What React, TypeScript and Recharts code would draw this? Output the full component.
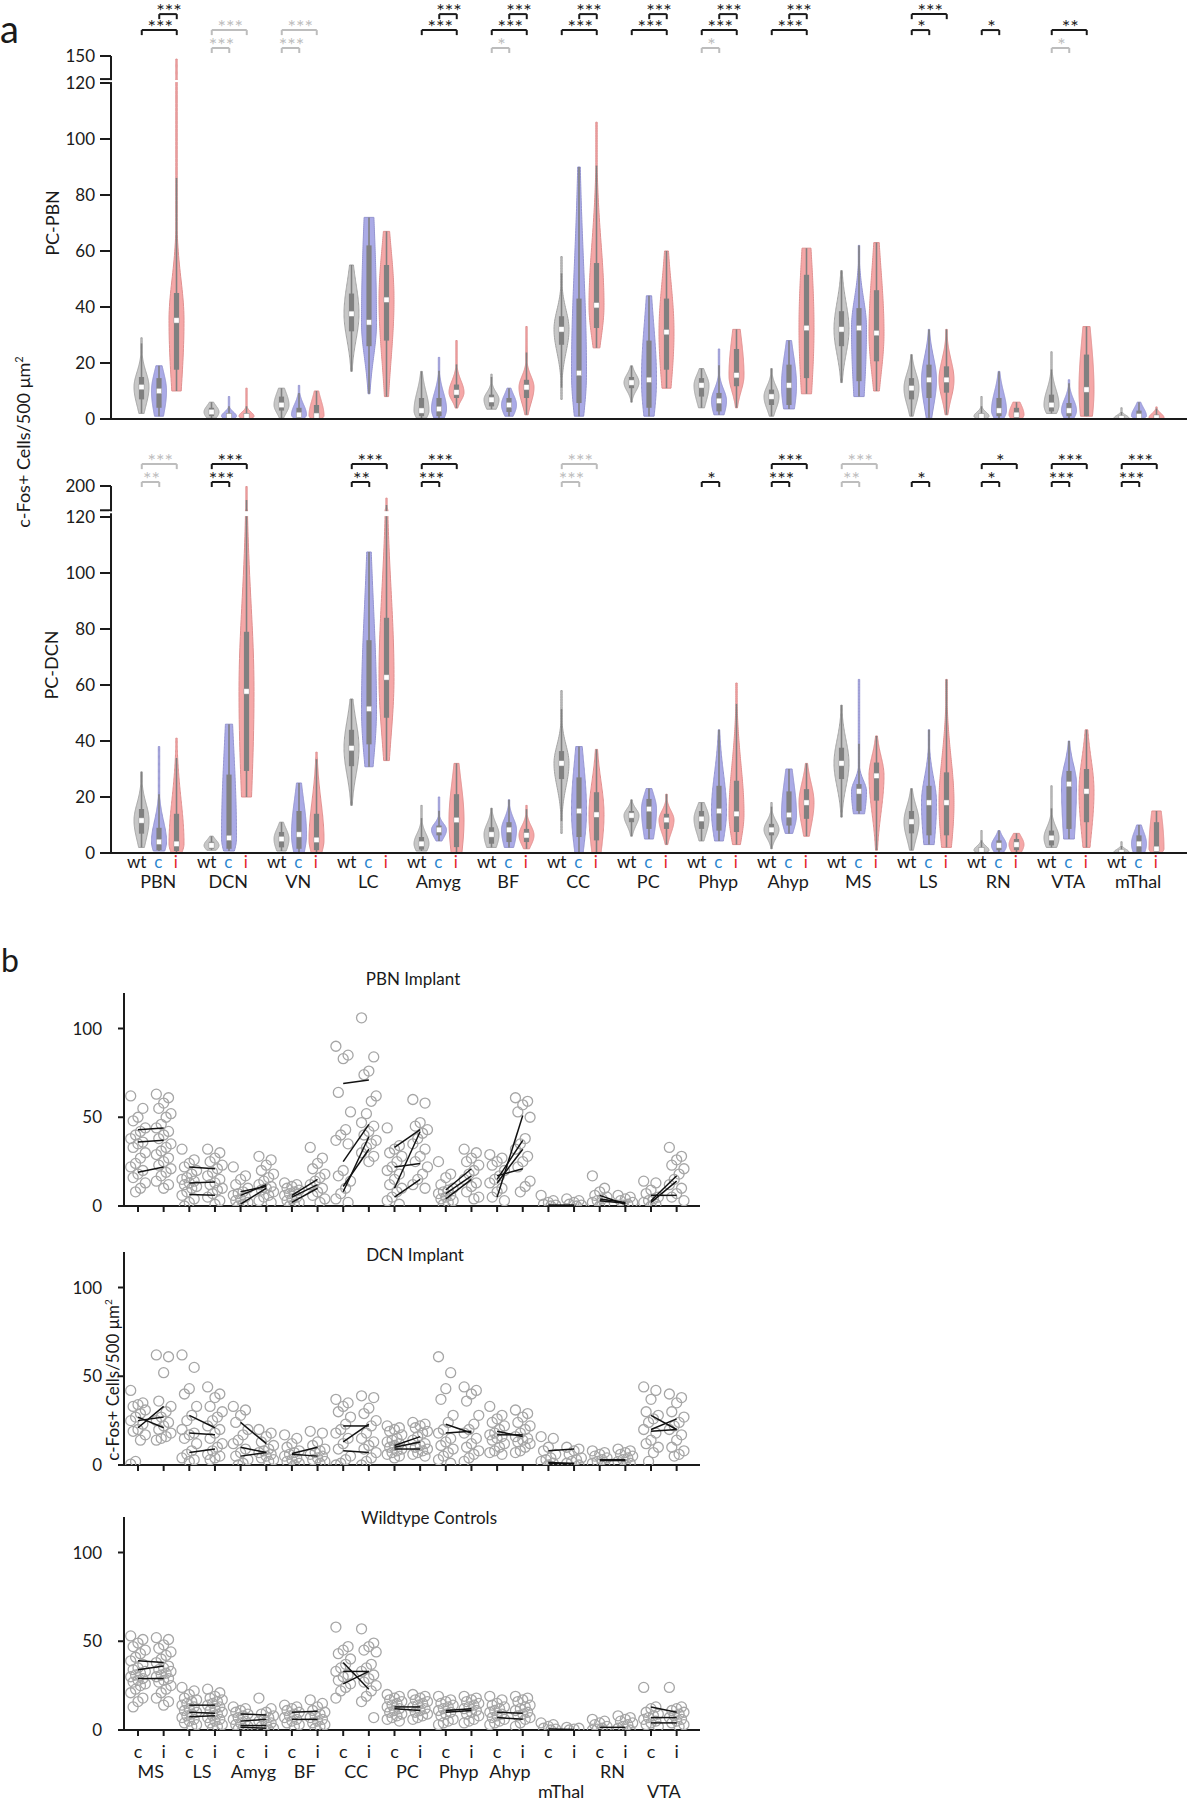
import React from 'react';
import { ComposedChart, Bar, XAxis, YAxis, ReferenceLine, Scatter } from 'recharts';

const FONT = 'Lato, "Noto Sans", "DejaVu Sans", sans-serif';
const INK = '#1a1a1a';
const SIG_GRAY = '#bdbdbd';

// ================= Panel a : violin data =================
const REGIONS_A = ['PBN', 'DCN', 'VN', 'LC', 'Amyg', 'BF', 'CC', 'PC', 'Phyp', 'Ahyp', 'MS', 'LS', 'RN', 'VTA', 'mThal'];

// each entry: [min, q1, median, q3, max]
const PBN_WT = [[2, 7, 11.4, 15, 29], [0.3, 1, 2.5, 4, 6], [0.3, 3, 5, 8, 11], [17, 31.3, 37.6, 44.8, 55], [0.3, 1, 3, 7.5, 17], [3.5, 4.5, 6.9, 8.7, 16], [7, 26.5, 32, 36.7, 58], [6, 11, 13, 15, 19], [4, 8, 12, 14.6, 18], [1, 5, 8, 10.5, 18], [13, 26, 32, 38.5, 53], [1, 7, 11, 14.6, 23], [0, 0.3, 1, 2, 8], [2, 2.7, 5, 8.7, 24], [0, 0, 0.3, 1, 4]];
const PBN_C = [[1, 4, 10, 14.6, 19], [0, 0.3, 1, 2, 8], [0, 0.5, 1.5, 4, 12], [9, 26, 34.5, 62, 72], [0.3, 1, 3.6, 7.5, 22], [1, 2.5, 5, 7.5, 11], [1, 5.7, 16.4, 43, 90], [1, 4, 14, 28, 44], [1.5, 2.7, 6.5, 9.3, 25], [3.6, 5, 12, 19.4, 28], [8, 13.5, 32.5, 39.6, 62], [0.4, 7.5, 14, 19.4, 32], [0, 1, 3, 7.5, 17], [0, 1, 3, 5.7, 14], [0, 0.5, 1, 3, 6]];
const PBN_I = [[10, 17.6, 35.2, 45, 146], [0, 0.3, 1, 2, 11], [0, 0.3, 1.2, 5, 10], [8, 28, 42.6, 55, 67], [3.9, 7.5, 9.5, 12.3, 28], [1.5, 7.5, 11.3, 14, 33], [25.4, 32.5, 40.6, 55.7, 106], [11, 17.6, 31, 43, 60], [4, 11.7, 15.6, 25, 32], [9, 14.6, 32.5, 51.5, 61], [10, 20.6, 30.7, 46, 63], [1.5, 9.4, 14, 18.8, 32], [0, 0.3, 1.5, 4, 6], [1, 1, 10.5, 23, 33], [0, 0, 0.5, 1.5, 4.3]];

const DCN_WT = [[2, 6.9, 11.6, 15.7, 29], [1, 1.5, 2.7, 4, 6], [0.7, 2, 5, 7.5, 11], [17, 31, 37.4, 44, 55], [0.7, 1.2, 3.3, 5.7, 17], [2, 3.3, 6.6, 9.2, 16], [7, 26.4, 32, 36.4, 58], [6, 11, 13.4, 15, 19], [4.3, 8.6, 12.2, 15, 18], [1.5, 6.3, 8.3, 10.4, 18], [12.8, 26.4, 32, 37.6, 52.8], [1, 7, 11.2, 15, 23], [0, 0.3, 1, 2, 8], [2, 2.7, 5.4, 8, 24], [0, 0, 0.3, 1, 4]];
const DCN_C = [[0.7, 1, 4, 9, 38], [0.7, 1.5, 5.4, 28, 46], [0, 1.5, 6.6, 15, 25], [30.8, 38.8, 51.5, 76, 107.5], [4.3, 6.3, 8.3, 9.8, 20], [2, 3.9, 8.3, 11, 19], [0, 5.7, 15, 27, 38], [5, 8.6, 15.7, 19.3, 23], [4.3, 8, 15, 24, 44], [7, 9.8, 13.6, 22, 30], [14, 15, 22, 24.6, 62], [3, 6.3, 18, 24, 44], [0, 1, 2.7, 4.5, 8], [5, 8.6, 24.6, 29.3, 40], [0, 0.4, 3.3, 6.3, 10]];
const DCN_I = [[0, 0.7, 3.3, 14, 41], [20, 29.3, 57.7, 79, 198], [0, 1, 4.7, 14, 36], [33, 48.3, 62.7, 84, 160], [0, 2.1, 11.8, 21, 32], [1.5, 3.9, 6.3, 8.6, 17], [0, 4.5, 13.7, 21.7, 37], [3, 8.6, 11.8, 14, 21], [3, 7.5, 14, 25.8, 60.7], [6, 12.2, 18, 22.8, 32], [1, 18.7, 27.6, 32.3, 41.8], [2, 6.3, 18, 28.8, 62], [0, 1, 3, 5, 7], [2, 11, 22, 30, 44], [0, 0.4, 1.5, 11, 15]];

// significance brackets: [region, from, to, level, stars, grey]
const SIG_PBN = [
  ['PBN', 'wt', 'i', 'B', '***', 0], ['PBN', 'c', 'i', 'A', '***', 0],
  ['DCN', 'wt', 'i', 'B', '***', 1], ['DCN', 'wt', 'c', 'C', '***', 1],
  ['VN', 'wt', 'i', 'B', '***', 1], ['VN', 'wt', 'c', 'C', '***', 1],
  ['Amyg', 'wt', 'i', 'B', '***', 0], ['Amyg', 'c', 'i', 'A', '***', 0],
  ['BF', 'wt', 'i', 'B', '***', 0], ['BF', 'c', 'i', 'A', '***', 0], ['BF', 'wt', 'c', 'C', '*', 1],
  ['CC', 'wt', 'i', 'B', '***', 0], ['CC', 'c', 'i', 'A', '***', 0],
  ['PC', 'wt', 'i', 'B', '***', 0], ['PC', 'c', 'i', 'A', '***', 0],
  ['Phyp', 'wt', 'i', 'B', '***', 0], ['Phyp', 'c', 'i', 'A', '***', 0], ['Phyp', 'wt', 'c', 'C', '*', 1],
  ['Ahyp', 'wt', 'i', 'B', '***', 0], ['Ahyp', 'c', 'i', 'A', '***', 0],
  ['LS', 'wt', 'i', 'A', '***', 0], ['LS', 'wt', 'c', 'B', '*', 0],
  ['RN', 'wt', 'c', 'B', '*', 0],
  ['VTA', 'wt', 'i', 'B', '**', 0], ['VTA', 'wt', 'c', 'C', '*', 1],
];
const SIG_DCN = [
  ['PBN', 'wt', 'i', 'B', '***', 1], ['PBN', 'wt', 'c', 'C', '**', 1],
  ['DCN', 'wt', 'i', 'B', '***', 0], ['DCN', 'wt', 'c', 'C', '***', 0],
  ['LC', 'wt', 'i', 'B', '***', 0], ['LC', 'wt', 'c', 'C', '**', 0],
  ['Amyg', 'wt', 'i', 'B', '***', 0], ['Amyg', 'wt', 'c', 'C', '***', 0],
  ['CC', 'wt', 'i', 'B', '***', 1], ['CC', 'wt', 'c', 'C', '***', 1],
  ['Phyp', 'wt', 'c', 'C', '*', 0],
  ['Ahyp', 'wt', 'i', 'B', '***', 0], ['Ahyp', 'wt', 'c', 'C', '***', 0],
  ['MS', 'wt', 'i', 'B', '***', 1], ['MS', 'wt', 'c', 'C', '**', 1],
  ['LS', 'wt', 'c', 'C', '*', 0],
  ['RN', 'wt', 'i', 'B', '*', 0], ['RN', 'wt', 'c', 'C', '*', 0],
  ['VTA', 'wt', 'i', 'B', '***', 0], ['VTA', 'wt', 'c', 'C', '***', 0],
  ['mThal', 'wt', 'i', 'B', '***', 0], ['mThal', 'wt', 'c', 'C', '***', 0],
];

const Y_TICKS_A = [0, 20, 40, 60, 80, 100, 120];
// broken axis: values above `cut` are compressed into [brk, topT]
const BREAK_PBN = { cut: 120, brk: 121.4, top: 150, topT: 129.64 };
const BREAK_DCN = { cut: 120, brk: 122.4, top: 200, topT: 131.07 };
const LEVELS = { A: 144.6, B: 138.9, C: 132.5 };
const LEG = 1.8;

// ================= Panel b : paired scatter data =================
const REGIONS_B = ['MS', 'LS', 'Amyg', 'BF', 'CC', 'PC', 'Phyp', 'Ahyp', 'mThal', 'RN', 'VTA'];
const LOW_LABELS_B = ['mThal', 'VTA'];
const Y_TICKS_B = [0, 50, 100];

const P1_C = [[62, 55, 50, 48, 44, 42, 40, 38, 36, 35, 33, 30, 27, 24, 22, 20, 18, 16, 13, 10, 8], [32, 26, 24, 22, 20, 18, 16, 15, 14, 13, 12, 11, 10, 8, 6, 4, 2, 0], [22, 17, 15, 12, 10, 8, 7, 6, 5, 4, 3, 2, 1, 0], [13, 12, 11, 10, 9, 8, 7, 6, 5, 4, 3, 2, 1, 0], [90, 85, 83, 64, 53, 43, 40, 37, 35, 20, 17, 14, 10, 7, 4, 2], [44, 34, 32, 30, 28, 25, 22, 20, 18, 15, 12, 10, 8, 5, 3, 1], [25, 18, 16, 12, 10, 9, 8, 7, 6, 5, 4, 3, 2, 1], [29, 27, 25, 23, 20, 17, 15, 13, 10, 8, 5, 3], [6, 3, 2, 1, 0.5, 0], [17, 10, 8, 6, 5, 4, 3, 2, 1, 0], [14, 13, 9, 7, 5, 4, 3, 2, 1, 0]];
const P1_I = [[63, 61, 58, 55, 52, 50, 46, 44, 42, 40, 38, 35, 33, 31, 29, 27, 25, 23, 21, 19, 17, 14, 12, 10], [32, 30, 27, 25, 23, 21, 19, 17, 15, 13, 12, 10, 9, 7, 5, 3, 1], [28, 26, 23, 20, 18, 16, 14, 12, 11, 10, 9, 8, 6, 5, 3, 2], [33, 27, 24, 21, 18, 16, 14, 12, 10, 8, 6, 4, 2], [106, 84, 76, 74, 62, 59, 52, 47, 45, 42, 40, 37, 35, 33, 30, 28, 25], [60, 58, 47, 45, 43, 41, 38, 35, 32, 28, 25, 22, 18, 15, 12, 10], [32, 30, 27, 25, 23, 20, 18, 15, 13, 11, 8, 5, 4], [61, 59, 57, 53, 50, 38, 35, 32, 28, 25, 22, 14, 11, 8], [4, 3, 2, 1, 0.5, 0], [6, 5, 4, 3, 2, 1, 0.5], [33, 28, 26, 23, 21, 18, 15, 12, 10, 7, 5, 3]];
const P1_LINES = [[[43, 44], [36, 37], [19, 22]], [[22, 21], [13, 13.5], [6.5, 6]], [[8, 11], [6, 12], [1, 10]], [[2, 10], [5, 12], [6, 15]], [[69, 71], [25, 46], [8, 39], [11, 32]], [[33, 43], [22, 24], [5, 15], [10, 42]], [[9, 21], [7, 17], [4, 15]], [[15, 37], [17, 21], [5, 51], [13, 32]], [[0.5, 0.5], [0, 0.3]], [[6, 1], [4, 2], [3, 1.5]], [[3, 17], [6, 6], [2, 14]]];

const P2_C = [[42, 35, 34, 33, 31, 29, 27, 25, 23, 20, 19, 17, 14, 2, 0.5], [62, 55, 43, 40, 33, 28, 25, 20, 18, 17, 15, 12, 8, 6, 4, 3, 2], [33, 31, 28, 24, 20, 17, 14, 12, 9, 7, 5, 3, 1, 0], [17, 15, 12, 10, 8, 7, 6, 5, 4, 3, 2, 1, 0], [37, 35, 33, 30, 27, 23, 20, 18, 15, 12, 9, 5, 3, 1, 0], [22, 21, 20, 19, 17, 15, 14, 13, 12, 11, 10, 9, 8, 7, 6, 5, 4], [61, 52, 43, 37, 28, 24, 20, 18, 15, 13, 11, 9, 7, 5, 3, 1], [33, 28, 26, 24, 22, 20, 18, 17, 16, 15, 14, 12, 10, 8, 7, 6], [16, 15, 10, 8, 6, 4, 3, 2, 1, 0], [8, 7, 6, 5, 4, 3, 2, 1, 0.5], [44, 42, 37, 30, 28, 26, 24, 20, 18, 14, 12, 10, 7, 2]];
const P2_I = [[62, 61, 52, 36, 33, 30, 27, 25, 24, 22, 20, 18, 16, 15, 14], [44, 40, 38, 33, 30, 27, 25, 22, 20, 18, 15, 12, 10, 8, 6, 5, 4, 3], [20, 18, 16, 13, 11, 9, 8, 7, 6, 5, 4, 3, 2], [19, 18, 13, 11, 9, 8, 7, 6, 5, 4, 3, 2, 1], [39, 38, 32, 29, 25, 22, 18, 15, 13, 11, 9, 7, 4, 2, 0], [24, 23, 22, 21, 19, 18, 16, 14, 12, 11, 10, 9, 8, 7, 6, 5], [44, 42, 40, 36, 28, 23, 20, 18, 15, 12, 10, 8, 6, 4, 2], [31, 29, 27, 24, 22, 20, 18, 16, 15, 14, 13, 12, 10, 8, 7], [10, 9, 8, 6, 4, 3, 2, 1, 0], [9, 8, 7, 6, 5, 4, 3, 2, 1, 0], [40, 38, 35, 30, 27, 24, 22, 20, 17, 14, 10, 8, 6, 5]];
const P2_LINES = [[[21, 33], [27, 21], [25, 27]], [[28, 21], [18, 17], [7, 9]], [[24, 12], [10, 7], [5, 7]], [[6.5, 10], [6, 5]], [[22, 22], [13, 23], [8, 7]], [[11, 16], [9, 9], [10, 13]], [[23, 18], [18, 19]], [[17, 17], [19, 16]], [[8, 9], [1, 1], [1.5, 0.5]], [[3, 3], [2.5, 2.5]], [[28, 20], [20, 26], [19, 20]]];

const P3_C = [[53, 51, 49, 47, 45, 43, 41, 39, 37, 35, 34, 33, 32, 31, 30, 29, 28, 27, 26, 25, 23, 21, 18, 16, 13], [24, 22, 20, 18, 17, 16, 15, 14, 13, 12, 11, 10, 9, 8, 7, 6, 5, 4, 3, 2], [13, 12, 11, 10, 9, 8, 7, 6, 5, 4, 3, 2, 1, 0.5], [14, 13, 12, 11, 10, 9, 8, 7, 6, 5, 4, 3, 2], [58, 47, 45, 43, 40, 37, 35, 33, 31, 30, 28, 26, 24, 22, 18], [20, 19, 18, 17, 16, 15, 14, 13, 12, 11, 10, 9, 8, 7, 6, 5], [19, 17, 16, 15, 14, 13, 12, 11, 10, 9, 8, 6, 5, 4, 3], [19, 17, 15, 14, 13, 12, 11, 10, 9, 8, 7, 6, 5, 4, 3], [4, 3, 2, 1, 0.5, 0], [6, 5, 4, 3, 2, 1, 0.5, 0], [24, 13, 12, 10, 9, 8, 7, 6, 5, 4, 3, 2]];
const P3_I = [[52, 51, 48, 46, 44, 42, 40, 38, 36, 35, 34, 33, 32, 31, 30, 29, 28, 27, 25, 23, 21, 18, 16, 14], [23, 21, 19, 18, 17, 16, 15, 14, 13, 12, 11, 10, 9, 8, 7, 6, 5, 4, 3, 2, 1], [18, 12, 10, 9, 8, 7, 6, 5, 4, 3, 2, 1, 0], [17, 15, 13, 11, 10, 9, 8, 7, 6, 5, 4, 3, 2, 1], [57, 49, 47, 45, 44, 37, 35, 33, 31, 29, 27, 25, 22, 19, 16, 7], [20, 19, 18, 17, 16, 15, 14, 13, 12, 11, 10, 9, 8, 7, 6], [19, 18, 17, 16, 15, 14, 13, 12, 11, 10, 9, 8, 6, 5, 4], [19, 18, 17, 16, 14, 13, 12, 11, 10, 9, 8, 7, 6, 4, 2], [1.5, 1, 0.5, 0], [8, 7, 6, 5, 4, 3, 2, 1, 0], [24, 13, 12, 11, 10, 9, 8, 7, 6, 5, 4, 3, 2]];
const P3_LINES = [[[39, 38], [34, 36], [29, 29]], [[14, 14], [10, 9.5], [7.5, 8]], [[9, 8.5], [5, 6], [2.5, 2.5], [1.5, 1]], [[10, 10.5], [6, 6]], [[38, 23], [33, 33], [26, 33]], [[13, 13], [12, 11]], [[11, 12], [10, 11]], [[10, 9.5], [7, 6]], [[0.5, 0.3]], [[1.5, 1.5]], [[13, 10], [7, 7], [4, 4]]];

// ================= helpers =================
const GROUP_FILL: any = { wt: '#c7c7c7', c: '#aaaae6', i: '#f5a7a7' };
const GROUP_STROKE: any = { wt: '#a3a3a3', c: '#9494cf', i: '#df9090' };
const LABEL_COLOR: any = { wt: INK, c: '#2a86cf', i: '#e4262c' };
const LABEL_SHIFT: any = { wt: -5, c: -1, i: -1 };

const makeTf = (b: any) => (v: number) => (v <= b.cut ? v : b.brk + ((v - b.cut) * (b.topT - b.brk)) / (b.top - b.cut));

function buildViolinRows(wt: number[][], c: number[][], i: number[][], tf: (v: number) => number) {
  const rows: any[] = [];
  REGIONS_A.forEach((r, k) => {
    const groups: [string, number[]][] = [['wt', wt[k]], ['c', c[k]], ['i', i[k]]];
    groups.forEach(([g, s]) => rows.push({ slot: `${r}|${g}`, stats: s, group: g, range: [tf(s[0]), tf(s[4])] }));
    rows.push({ slot: `${r}|gap`, stats: null, group: 'gap', range: null });
  });
  return rows;
}

const makeViolinShape = (tf: (v: number) => number, b: any) => (props: any) => {
  const { x, y, width, height, payload } = props;
  const s = payload && payload.stats;
  if (!s || !(height > 0)) return <g />;
  const [mn, q1, md, q3, mx] = s;
  const lo = tf(mn);
  const hi = tf(mx);
  const ppu = height / (hi - lo);
  const pyT = (t: number) => y + (hi - t) * ppu;
  const py = (v: number) => pyT(tf(v));
  const cx = x + width / 2;
  const hwMax = width / 2;
  const range = mx - mn;
  const floor = Math.max(0.6, 0.06 * range);
  const sl = Math.max((md - q1) * 1.48, floor);
  const sh = Math.max((q3 - md) * 1.48, floor);
  const dens = (v: number) => {
    const z = v < md ? (md - v) / sl : (v - md) / sh;
    return Math.exp(-0.5 * z * z);
  };
  const samples: number[] = [];
  const N = 90;
  for (let k = 0; k <= N; k++) samples.push(mn + (range * k) / N);
  if (md > mn && md < mx) samples.push(md);
  samples.sort((a, bb) => a - bb);
  const maxD = Math.max(...samples.map(dens));
  const hw = (v: number) => Math.max(0.7, (hwMax * dens(v)) / maxD);
  const right = samples.map((v) => `${(cx + hw(v)).toFixed(2)},${py(v).toFixed(2)}`);
  const left = samples.slice().reverse().map((v) => `${(cx - hw(v)).toFixed(2)},${py(v).toFixed(2)}`);
  const d = `M${right.join('L')}L${left.join('L')}Z`;
  const iqr = q3 - q1;
  const wLo = Math.max(mn, q1 - 1.5 * iqr);
  const wHi = Math.min(mx, q3 + 1.5 * iqr);
  const g = payload.group;
  return (
    <g>
      <path d={d} fill={GROUP_FILL[g]} stroke={GROUP_STROKE[g]} strokeWidth={1} />
      <line x1={cx} x2={cx} y1={py(wHi)} y2={py(wLo)} stroke="#808080" strokeWidth={1.6} />
      <rect x={cx - 2.6} y={py(q3)} width={5.2} height={Math.max(1, py(q1) - py(q3))} fill="#808080" />
      <rect x={cx - 2.6} y={py(md) - 2.6} width={5.2} height={5.2} fill="#ffffff" stroke="#9a9a9a" strokeWidth={0.5} />
      {mx > b.cut && (
        <rect x={cx - hwMax - 1} y={pyT(b.brk) + 0.9} width={width + 2} height={Math.max(0.5, pyT(b.cut) - pyT(b.brk) - 1.8)} fill="#ffffff" />
      )}
    </g>
  );
};

const makeYTickA = (b: any) => (props: any) => {
  const { x, y, payload } = props;
  const v = payload.value;
  let label = String(v);
  const isBrk = Math.abs(v - b.brk) < 1e-6;
  if (isBrk) label = '';
  else if (Math.abs(v - b.topT) < 1e-6) label = String(b.top);
  const axisX = x + 16;
  return (
    <g>
      {isBrk && <rect x={axisX - 2} y={y + 1.1} width={4} height={1.9} fill="#ffffff" />}
      {label !== '' && (
        <text x={x} y={y} dy="0.36em" textAnchor="end" fontSize={17} fill={INK} fontFamily={FONT}>
          {label}
        </text>
      )}
    </g>
  );
};

const ViolinXTick = (props: any) => {
  const { x, y, payload } = props;
  const [region, g] = String(payload.value).split('|');
  if (g === 'gap') return <g />;
  return (
    <g>
      <text x={x + LABEL_SHIFT[g]} y={y + 15} textAnchor="middle" fontSize={17} fill={LABEL_COLOR[g]} fontFamily={FONT}>
        {g}
      </text>
      {g === 'c' && (
        <text x={x - 1} y={y + 35} textAnchor="middle" fontSize={18} fill={INK} fontFamily={FONT}>
          {region}
        </text>
      )}
    </g>
  );
};

const starLabel = (stars: string, col: string) => (p: any) => {
  const vb = p.viewBox || {};
  return (
    <text x={(vb.x || 0) + (vb.width || 0) / 2 + 1} y={(vb.y || 0) + 4} textAnchor="middle" fontSize={20} fill={col} fontFamily={FONT}>
      {stars}
    </text>
  );
};

function bracketElements(sig: any[], key: string) {
  const out: any[] = [];
  sig.forEach(([region, from, to, lvl, stars, grey]: any, n: number) => {
    const yv = (LEVELS as any)[lvl];
    const a = `${region}|${from}`;
    const bb = `${region}|${to}`;
    const col = grey ? SIG_GRAY : INK;
    out.push(
      <ReferenceLine key={`${key}h${n}`} segment={[{ x: a, y: yv }, { x: bb, y: yv }]} stroke={col} strokeWidth={2} ifOverflow="visible" label={starLabel(stars, col)} />
    );
    out.push(<ReferenceLine key={`${key}l${n}`} segment={[{ x: a, y: yv }, { x: a, y: yv - LEG }]} stroke={col} strokeWidth={2} ifOverflow="visible" />);
    out.push(<ReferenceLine key={`${key}r${n}`} segment={[{ x: bb, y: yv }, { x: bb, y: yv - LEG }]} stroke={col} strokeWidth={2} ifOverflow="visible" />);
  });
  return out;
}

function ViolinPanel({ wt, c, i, sig, brkCfg, top, marginTop, xHeight, showX, idKey }: any) {
  const tf = makeTf(brkCfg);
  const rows = buildViolinRows(wt, c, i, tf);
  const plotH = brkCfg.topT * 2.8;
  const height = marginTop + plotH + xHeight;
  return (
    <div style={{ position: 'absolute', left: 0, top }}>
      <ComposedChart width={1187} height={height} data={rows} margin={{ top: marginTop, right: 0, bottom: 0, left: 0 }}>
        <XAxis
          dataKey="slot"
          type="category"
          interval={0}
          padding={{ left: 22, right: 4 }}
          height={xHeight}
          tickLine={false}
          tickSize={0}
          tickMargin={0}
          axisLine={{ stroke: INK, strokeWidth: 2 }}
          tick={showX ? <ViolinXTick /> : false}
        />
        <YAxis
          type="number"
          domain={[0, brkCfg.topT]}
          allowDataOverflow
          ticks={[...Y_TICKS_A, brkCfg.brk, brkCfg.topT]}
          interval={0}
          width={111}
          tickSize={11}
          tickMargin={5}
          axisLine={{ stroke: INK, strokeWidth: 2 }}
          tickLine={{ stroke: INK, strokeWidth: 2 }}
          tick={makeYTickA(brkCfg)}
        />
        <Bar dataKey="range" barSize={15} shape={makeViolinShape(tf, brkCfg)} isAnimationActive={false} />
        {bracketElements(sig, idKey)}
      </ComposedChart>
    </div>
  );
}

// ---------- panel b ----------
const jitter = (j: number) => (((j * 5) % 7) - 3) * 0.095;

function buildPoints(cArr: number[][], iArr: number[][]) {
  const pts: any[] = [];
  REGIONS_B.forEach((r, k) => {
    [cArr[k], iArr[k]].forEach((vals, s) => {
      vals.forEach((v, j) => pts.push({ x: 2 * k + s + jitter(j), y: v }));
    });
  });
  return pts;
}
function buildSegments(lines: number[][][]) {
  const segs: any[] = [];
  lines.forEach((pairs, k) => pairs.forEach(([a, b]) => segs.push([{ x: 2 * k, y: a }, { x: 2 * k + 1, y: b }])));
  return segs;
}

const Ring = (p: any) => <circle cx={p.cx} cy={p.cy} r={5} fill="none" stroke="#a6a6a6" strokeWidth={1.3} />;
const NoDot = () => <g />;

const B_TICKS: number[] = [];
REGIONS_B.forEach((_, k) => {
  B_TICKS.push(2 * k, 2 * k + 0.5, 2 * k + 1);
});

const makeBXTick = (showLabels: boolean) => (props: any) => {
  const { x, y, payload } = props;
  const v = payload.value;
  if (Number.isInteger(v)) {
    return (
      <g>
        <line x1={x} x2={x} y1={y} y2={y + 6} stroke={INK} strokeWidth={2} />
        {showLabels && (
          <text x={x} y={y + 28} textAnchor="middle" fontSize={18} fill={INK} fontFamily={FONT}>
            {v % 2 === 0 ? 'c' : 'i'}
          </text>
        )}
      </g>
    );
  }
  if (!showLabels) return <g />;
  const r = REGIONS_B[Math.floor(v / 2)];
  const low = LOW_LABELS_B.includes(r);
  return (
    <text x={x} y={y + (low ? 68 : 48)} textAnchor="middle" fontSize={18} fill={INK} fontFamily={FONT}>
      {r}
    </text>
  );
};

function PairPanel({ cArr, iArr, lines, top, xHeight, showLabels }: any) {
  const pts = buildPoints(cArr, iArr);
  const segs = buildSegments(lines);
  const plotH = 213;
  return (
    <div style={{ position: 'absolute', left: 0, top }}>
      <ComposedChart width={712} height={30 + plotH + xHeight} margin={{ top: 30, right: 12, bottom: 0, left: 0 }}>
        <XAxis
          dataKey="x"
          type="number"
          domain={[-0.546, 21.91]}
          allowDataOverflow
          ticks={B_TICKS}
          interval={0}
          height={xHeight}
          tickLine={false}
          tickSize={0}
          tickMargin={0}
          axisLine={{ stroke: INK, strokeWidth: 2 }}
          tick={makeBXTick(showLabels)}
        />
        <YAxis
          dataKey="y"
          type="number"
          domain={[0, 120]}
          allowDataOverflow
          ticks={Y_TICKS_B}
          interval={0}
          width={124}
          tickSize={6}
          tickMargin={16}
          axisLine={{ stroke: INK, strokeWidth: 2 }}
          tickLine={{ stroke: INK, strokeWidth: 2 }}
          tick={{ fontSize: 17, fill: INK, fontFamily: FONT }}
        />
        <Scatter data={pts} shape={Ring} isAnimationActive={false} />
        {segs.map((s, n) => (
          <Scatter key={n} data={s} shape={NoDot} line={{ stroke: '#111111', strokeWidth: 1.5 }} isAnimationActive={false} />
        ))}
      </ComposedChart>
    </div>
  );
}

export default function App() {
  return (
    <div style={{ position: 'absolute', left: 0, top: 0, width: 1187, height: 1800, background: '#ffffff', overflow: 'hidden' }}>
      <svg width={1187} height={1800} style={{ position: 'absolute', left: 0, top: 0 }}>
        <text x={0} y={43} fontSize={38} fill={INK} fontFamily={FONT}>a</text>
        <text x={1} y={972} fontSize={32} fill={INK} fontFamily={FONT}>b</text>
        <text transform="translate(59,223) rotate(-90)" textAnchor="middle" fontSize={18} fill={INK} fontFamily={FONT}>PC-PBN</text>
        <text transform="translate(58,665) rotate(-90)" textAnchor="middle" fontSize={18} fill={INK} fontFamily={FONT}>PC-DCN</text>
        <text transform="translate(30,442) rotate(-90)" textAnchor="middle" fontSize={18} fill={INK} fontFamily={FONT}>
          c-Fos+ Cells/500 μm<tspan dy={-7} fontSize={11}>2</tspan>
        </text>
        <text x={413} y={985} textAnchor="middle" fontSize={17} fill={INK} fontFamily={FONT}>PBN Implant</text>
        <text x={415} y={1261} textAnchor="middle" fontSize={17} fill={INK} fontFamily={FONT}>DCN Implant</text>
        <text x={429} y={1524} textAnchor="middle" fontSize={17} fill={INK} fontFamily={FONT}>Wildtype Controls</text>
        <text transform="translate(119,1380) rotate(-90)" textAnchor="middle" fontSize={17} fill={INK} fontFamily={FONT}>
          c-Fos+ Cells/500 μm<tspan dy={-7} fontSize={10}>2</tspan>
        </text>
      </svg>
      <ViolinPanel wt={PBN_WT} c={PBN_C} i={PBN_I} sig={SIG_PBN} brkCfg={BREAK_PBN} top={0} marginTop={56} xHeight={6} showX={false} idKey="t" />
      <ViolinPanel wt={DCN_WT} c={DCN_C} i={DCN_I} sig={SIG_DCN} brkCfg={BREAK_DCN} top={434} marginTop={52} xHeight={56} showX idKey="b" />
      <PairPanel cArr={P1_C} iArr={P1_I} lines={P1_LINES} top={963} xHeight={16} showLabels={false} />
      <PairPanel cArr={P2_C} iArr={P2_I} lines={P2_LINES} top={1222} xHeight={16} showLabels={false} />
      <PairPanel cArr={P3_C} iArr={P3_I} lines={P3_LINES} top={1487} xHeight={71} showLabels />
    </div>
  );
}
